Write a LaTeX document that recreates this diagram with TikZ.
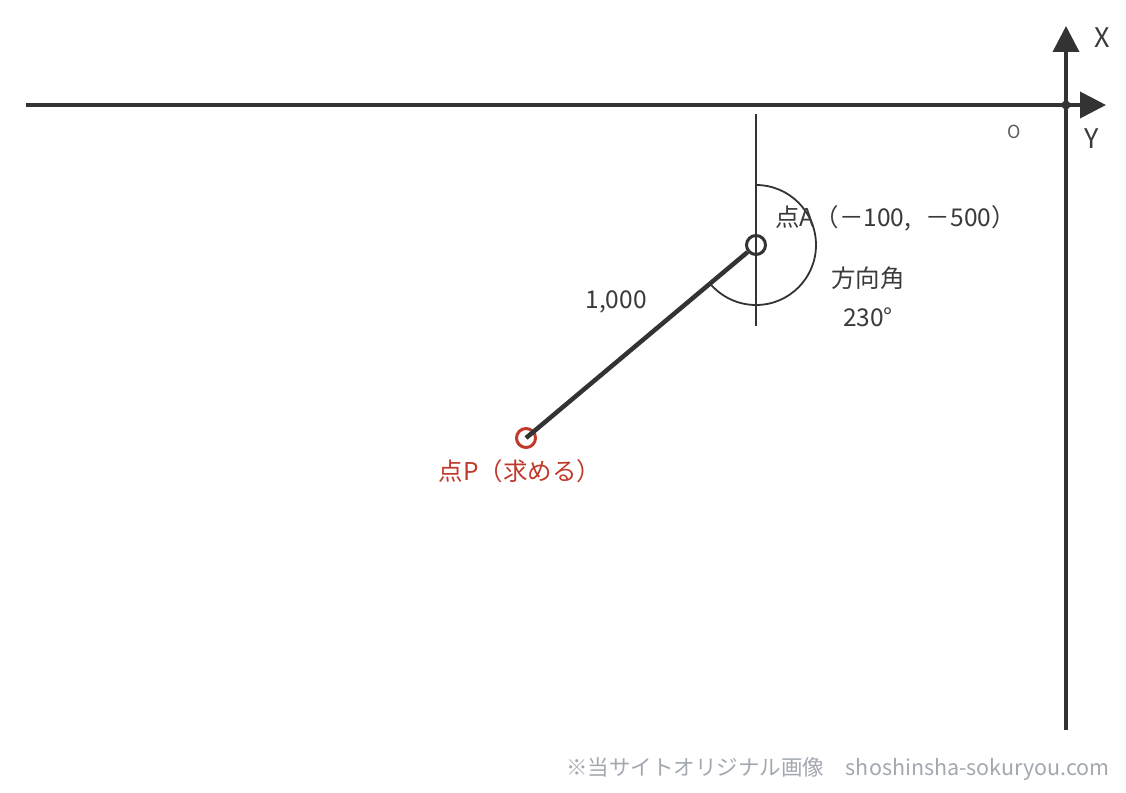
\documentclass[tikz,border=0pt]{standalone}
\usepackage{fontspec}
\setmainfont{Noto Sans CJK JP}
\usetikzlibrary{arrows.meta}
\definecolor{ink}{HTML}{333333}
\definecolor{redp}{HTML}{C0392B}
\definecolor{foot}{HTML}{A3A8B0}
\definecolor{txt}{HTML}{3A3A3A}
\tikzset{
  axis/.style={ink, line width=3.8pt, -{Triangle[length=26pt,width=26pt]}},
  lbl/.style={text=txt, font=\fontsize{24.5}{28}\selectfont, inner sep=0pt},
  pt/.style={circle, minimum size=19pt, inner sep=0pt, line width=3pt},
}
\begin{document}
\begin{tikzpicture}[x=1pt,y=-1pt]
\useasboundingbox (0,0) rectangle (1126,792);
% axes
\coordinate (Yl) at (26,105);
\coordinate (Yr) at (1106,105);
\coordinate (Xb) at (1066,730);
\coordinate (Xt) at (1066,26);
\coordinate (O) at (1066,105);
\draw[axis] (Yl) -- (Yr);
\draw[axis] (Xb) -- (Xt);
\fill[ink] (O) circle[radius=4.5];
\node[lbl, font=\fontsize{27}{30}\selectfont] (xl) at (1102,38) {X};
\node[lbl, font=\fontsize{27}{30}\selectfont] (yl) at (1092,139) {Y};
\node[lbl, text=ink!80, font=\fontsize{18}{20}\selectfont] (ol) at (1014,132) {O};
% point A and P
\node[pt, draw=ink] (A) at (756,245) {};
\node[pt, draw=redp] (P) at (526,438) {};
\draw[ink, line width=1.6pt] (756,114) coordinate (Nt) -- (756,326) coordinate (Nb);
\draw[ink, line width=1.8pt] (A.center) ++(-90:60) arc[start angle=-90, end angle=140, radius=60];
\draw[ink, line width=4.5pt] (A) -- (P.center);
% labels
\node[lbl, anchor=west] (la) at (775,218) {点A（－100,\hspace{0.6em}－500）};
\node[lbl] (ld) at (616,302) {1,000};
\node[lbl] (lh) at (868,278) {方向角};
\node[lbl] (lv) at (868,317) {230°};
\node[lbl, text=redp] (lp) at (520,471) {点P（求める）};
\node[lbl, text=foot, anchor=east, font=\fontsize{21.5}{24}\selectfont] (ft) at (1110,769) {※当サイトオリジナル画像\hspace{1em}shoshinsha-sokuryou.com};
\end{tikzpicture}
\end{document}
